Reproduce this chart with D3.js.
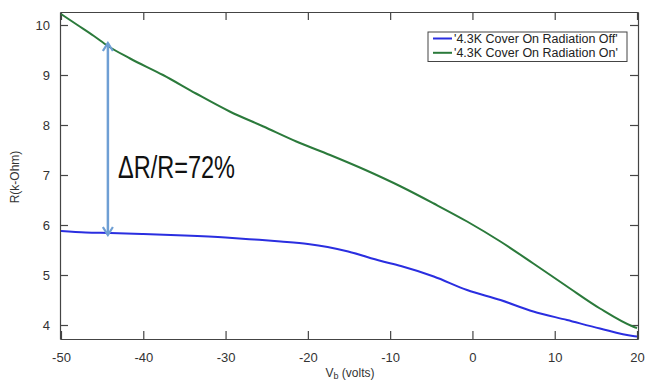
<!DOCTYPE html>
<html>
<head>
<meta charset="utf-8">
<script src="https://cdn.jsdelivr.net/npm/d3@7"></script>
<style>
  body { margin: 0; background: #fff; }
  text { font-family: "Liberation Sans", Arial, sans-serif; }
</style>
</head>
<body>
<div id="chart"></div>
<script>
// series
const offVolts = [-50, -47, -44, -40, -35, -30, -26.5, -23.3, -20, -17.6, -15.1, -11.1, -8.7, -4.7, -0.65, 3.4, 7.4, 11.5, 15.5, 19.5, 20];
const offR     = [5.88, 5.85, 5.84, 5.82, 5.79, 5.75, 5.71, 5.67, 5.62, 5.56, 5.47, 5.28, 5.18, 4.97, 4.7, 4.5, 4.27, 4.1, 3.93, 3.78, 3.77];
const onVolts  = [-50, -48, -46, -44.3, -41.6, -37.6, -33.6, -29.5, -25.4, -21.4, -17.3, -13, -8.7, -4.7, -0.65, 3.4, 7.4, 11.5, 15.5, 19.5, 20];
const onR      = [10.22, 10.0, 9.78, 9.58, 9.33, 9.0, 8.63, 8.27, 7.97, 7.67, 7.4, 7.1, 6.77, 6.43, 6.07, 5.67, 5.23, 4.77, 4.33, 3.97, 3.94];

const xTicks = [-50, -40, -30, -20, -10, 0, 10, 20];
const yTicks = [4, 5, 6, 7, 8, 9, 10];
const seriesNames = ["'4.3K Cover On Radiation Off'", "'4.3K Cover On Radiation On'"];
const seriesColors = ["#2a2ee0", "#2b7a3b"];

// annotation: arrow between the two curves
const arrowV = -44.3, arrowTop = 9.64, arrowBottom = 5.8;
const noteText = "\u0394R/R=72%";

const W = 645, H = 381;
const margin = { top: 12, right: 7, bottom: 42, left: 60 };

const svg = d3.select("#chart")
  .append("svg")
  .attr("width", W)
  .attr("height", H);

const x = d3.scaleLinear()
  .domain([-50.12, 20.12])
  .range([margin.left, W - margin.right]);

const y = d3.scaleLinear()
  .domain([3.72, 10.26])
  .range([H - margin.bottom, margin.top]);

const fmt = d => String(d);   // plain hyphen, no decimals

// arrow marker
svg.append("defs").append("marker")
  .attr("id", "chev")
  .attr("viewBox", "-10 -6 12 12")
  .attr("refX", 0)
  .attr("refY", 0)
  .attr("markerWidth", 12)
  .attr("markerHeight", 12)
  .attr("markerUnits", "userSpaceOnUse")
  .attr("orient", "auto-start-reverse")
  .append("path")
  .attr("d", "M-8,-5L0,0L-8,5")
  .attr("fill", "none")
  .attr("stroke", "#6f9fd4")
  .attr("stroke-width", 2.2);

// axes on all four sides, ticks pointing in
const axisColor = "#444";
function styleAxis(g) {
  g.select(".domain").attr("stroke", axisColor).attr("stroke-width", 1.2);
  g.selectAll(".tick line").attr("stroke", axisColor).attr("stroke-width", 1.2);
  g.selectAll(".tick text").attr("fill", "#333").style("font-size", "13px");
}

svg.append("g")
  .attr("transform", `translate(0,${H - margin.bottom})`)
  .call(d3.axisBottom(x).tickValues(xTicks).tickFormat(fmt).tickSizeInner(-8).tickSizeOuter(0).tickPadding(14))
  .call(styleAxis);

svg.append("g")
  .attr("transform", `translate(0,${margin.top})`)
  .call(d3.axisTop(x).tickValues(xTicks).tickSizeInner(-8).tickSizeOuter(0).tickFormat(""))
  .call(styleAxis);

svg.append("g")
  .attr("transform", `translate(${margin.left},0)`)
  .call(d3.axisLeft(y).tickValues(yTicks).tickFormat(fmt).tickSizeInner(-8).tickSizeOuter(0).tickPadding(10))
  .call(styleAxis);

svg.append("g")
  .attr("transform", `translate(${W - margin.right},0)`)
  .call(d3.axisRight(y).tickValues(yTicks).tickSizeInner(-8).tickSizeOuter(0).tickFormat(""))
  .call(styleAxis);

// axis titles
const xl = svg.append("text")
  .attr("x", 350)
  .attr("y", 377)
  .attr("text-anchor", "middle")
  .attr("fill", "#333")
  .style("font-size", "12px");
xl.append("tspan").text("V");
xl.append("tspan").attr("dy", 2).style("font-size", "9px").text("b");
xl.append("tspan").attr("dy", -2).text(" (volts)");

svg.append("text")
  .attr("transform", "translate(19,177) rotate(-90)")
  .attr("text-anchor", "middle")
  .attr("fill", "#333")
  .style("font-size", "12px")
  .text("R(k-Ohm)");

// lines
const line = d3.line()
  .x(d => x(d[0]))
  .y(d => y(d[1]))
  .curve(d3.curveMonotoneX);

const series = [d3.zip(offVolts, offR), d3.zip(onVolts, onR)];

svg.selectAll(".series")
  .data(series)
  .join("path")
  .attr("class", "series")
  .attr("d", line)
  .attr("fill", "none")
  .attr("stroke", (d, i) => seriesColors[i])
  .attr("stroke-width", 2);

// arrow + note
svg.append("line")
  .attr("x1", x(arrowV))
  .attr("x2", x(arrowV))
  .attr("y1", y(arrowTop))
  .attr("y2", y(arrowBottom))
  .attr("stroke", "#6f9fd4")
  .attr("stroke-width", 2.5)
  .attr("marker-start", "url(#chev)")
  .attr("marker-end", "url(#chev)");

svg.append("text")
  .attr("x", 118)
  .attr("y", 178)
  .attr("fill", "#111")
  .attr("textLength", 117)
  .attr("lengthAdjust", "spacingAndGlyphs")
  .style("font-size", "31px")
  .text(noteText);

// legend
const lg = svg.append("g").attr("transform", "translate(428,32)");
lg.append("rect")
  .attr("width", 199)
  .attr("height", 29.5)
  .attr("fill", "#fff")
  .attr("stroke", "#444")
  .attr("stroke-width", 1);

const items = lg.selectAll(".item")
  .data(seriesNames)
  .join("g")
  .attr("class", "item")
  .attr("transform", (d, i) => `translate(0,${6.5 + i * 14.3})`);

items.append("line")
  .attr("x1", 5).attr("x2", 24)
  .attr("stroke", (d, i) => seriesColors[i])
  .attr("stroke-width", 2);

items.append("text")
  .attr("x", 26)
  .attr("y", 4.3)
  .attr("fill", "#222")
  .style("font-size", "12.5px")
  .text(d => d);
</script>
</body>
</html>
